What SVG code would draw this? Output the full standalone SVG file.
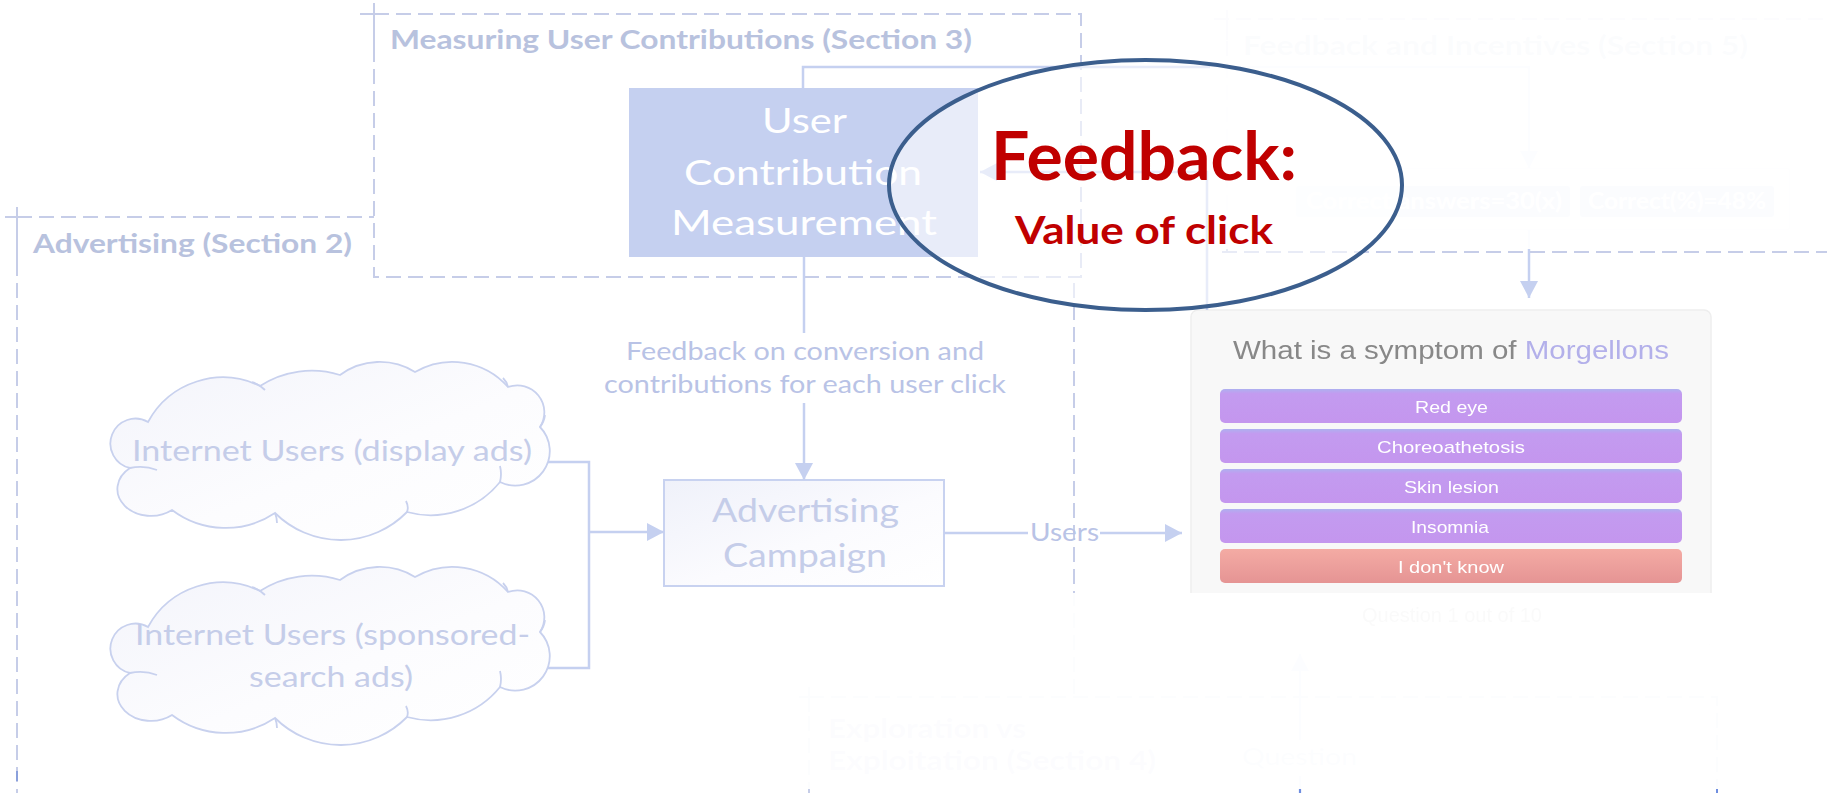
<svg xmlns="http://www.w3.org/2000/svg" width="1827" height="793" viewBox="0 0 1827 793">
<defs>
<style>
.dash{fill:none;stroke:#c6cde8;stroke-width:2;stroke-dasharray:15 7}
.tick{fill:none;stroke:#c6cde8;stroke-width:2}
.sec{font-family:Lato,"Open Sans","Liberation Sans",sans-serif;font-weight:700;font-size:26px;fill:#b8c2de}
.conn{fill:none;stroke:#c5d0f0;stroke-width:2.5}
.lbl{font-family:Lato,"Open Sans","Liberation Sans",sans-serif;fill:#b9c3e6}
.pale{fill:#c5cde9}
.white{fill:#ffffff}
.cloud{fill:url(#cloudFill);stroke:#c8d1ee;stroke-width:1.8}
.cloudIn{fill:none;stroke:#c8d1ee;stroke-width:1.8}
.btnt{font-family:"Liberation Sans",Arial,sans-serif;font-size:17px;fill:#ffffff}
.quiz{font-family:"Liberation Sans",Arial,sans-serif}
</style>
<linearGradient id="cloudFill" x1="0" y1="0" x2="1" y2="1">
<stop offset="0" stop-color="#f3f4fb"/><stop offset="0.55" stop-color="#fcfcfe"/><stop offset="1" stop-color="#ffffff"/>
</linearGradient>
<linearGradient id="campFill" x1="0" y1="0" x2="1" y2="1">
<stop offset="0" stop-color="#eff1fa"/><stop offset="0.55" stop-color="#fbfbfe"/><stop offset="1" stop-color="#ffffff"/>
</linearGradient>
<linearGradient id="purple" x1="0" y1="0" x2="0" y2="1">
<stop offset="0" stop-color="#aeb0f0"/><stop offset="0.14" stop-color="#c39bf0"/><stop offset="1" stop-color="#c496ee"/>
</linearGradient>
<linearGradient id="red" x1="0" y1="0" x2="0" y2="1">
<stop offset="0" stop-color="#f4aba4"/><stop offset="1" stop-color="#e59494"/>
</linearGradient>
<marker id="ah" viewBox="0 0 17 18" refX="17" refY="9" markerWidth="17" markerHeight="18" markerUnits="userSpaceOnUse" orient="auto">
<path d="M0,0 L17,9 L0,18 Z" fill="#c5d0f0"/>
</marker>
<filter id="soft" x="-5%" y="-5%" width="110%" height="110%"><feGaussianBlur stdDeviation="0.45"/></filter>
<path id="cloudShape" class="cloud" d="M148,422 A85,85 0 0 1 260,386 A95,95 0 0 1 340,375 A67,67 0 0 1 415,372 A74,74 0 0 1 508,387 A27,27 0 0 1 540,427 A34.5,34.5 0 0 1 500,482 A89,89 0 0 1 407,512 A93,93 0 0 1 275,513 A89,89 0 0 1 172,510 A30,24 0 1 1 130,468 A25,25 0 1 1 148,422 Z"/>
<path id="cloudInner" class="cloudIn" d="M130,468 Q144,465 157,470 M252,382 Q259,384 265,390 M508,387 Q507,382 503,378 M540,427 Q544,422 545,415 M500,466 Q502,474 500,482 M406,501 Q409,507 407,512 M275,513 Q277,518 277,523"/>
</defs>

<rect width="1827" height="793" fill="#ffffff"/>

<!-- Section 2: advertising frame -->
<g id="sec-advertising">
<path class="dash" d="M17,217 H1074 M17,217 V793 M1074,217 V800"/>
<path class="tick" d="M5,217 H25 M17,207 V268"/>
<path d="M17,771 V781" stroke="#8aa0dc" stroke-width="2"/>
</g>

<!-- Section 3: measuring frame (white fill hides what lies behind) -->
<g id="sec-measuring">
<rect x="374" y="14" width="707" height="263" fill="#ffffff"/>
<rect class="dash" x="374" y="14" width="707" height="263"/>
<path class="tick" d="M360,14 H382 M374,3 V48"/>
<text class="sec" x="390" y="49" textLength="582" lengthAdjust="spacingAndGlyphs">Measuring User Contributions (Section 3)</text>
</g>

<text class="sec" x="33" y="253" textLength="319" lengthAdjust="spacingAndGlyphs">Advertising (Section 2)</text>

<!-- Clouds of users -->
<g id="cloud-display">
<use href="#cloudShape"/>
<use href="#cloudInner"/>
<text class="lbl pale" x="132" y="461" font-size="29" textLength="400" lengthAdjust="spacingAndGlyphs">Internet Users (display ads)</text>
</g>
<g id="cloud-search">
<use href="#cloudShape" transform="translate(0,205)"/>
<use href="#cloudInner" transform="translate(0,205)"/>
<text class="lbl pale" x="135" y="645" font-size="29" textLength="395" lengthAdjust="spacingAndGlyphs">Internet Users (sponsored-</text>
<text class="lbl pale" x="249" y="687" font-size="29" textLength="164" lengthAdjust="spacingAndGlyphs">search ads)</text>
</g>

<!-- Advertising campaign -->
<g id="campaign">
<rect x="664" y="480" width="280" height="106" fill="url(#campFill)" stroke="#c8d2f0" stroke-width="2"/>
<text class="lbl pale" x="712" y="522" font-size="32" textLength="187" lengthAdjust="spacingAndGlyphs">Advertising</text>
<text class="lbl pale" x="723" y="567" font-size="32" textLength="164" lengthAdjust="spacingAndGlyphs">Campaign</text>
</g>

<!-- User contribution measurement -->
<g id="ucm">
<rect x="629" y="88" width="349" height="169" fill="#c5d0f0"/>
<text class="lbl white" x="762" y="133" font-size="35" textLength="85" lengthAdjust="spacingAndGlyphs">User</text>
<text class="lbl white" x="684" y="185" font-size="35" textLength="238" lengthAdjust="spacingAndGlyphs">Contribution</text>
<text class="lbl white" x="671" y="235" font-size="35" textLength="266" lengthAdjust="spacingAndGlyphs">Measurement</text>
</g>

<!-- Quiz screenshot -->
<g id="quiz" class="quiz" filter="url(#soft)">
<rect x="1191" y="310" width="520" height="338" rx="7" fill="#f8f8f8" stroke="#eeeeee" stroke-width="1.5"/>
<text x="1233" y="359" font-size="26" textLength="436" lengthAdjust="spacingAndGlyphs" fill="#888888">What is a symptom of <tspan fill="#b3b0ea">Morgellons</tspan></text>
<rect x="1220" y="389" width="462" height="34" rx="5" fill="url(#purple)"/>
<rect x="1220" y="429" width="462" height="34" rx="5" fill="url(#purple)"/>
<rect x="1220" y="469" width="462" height="34" rx="5" fill="url(#purple)"/>
<rect x="1220" y="509" width="462" height="34" rx="5" fill="url(#purple)"/>
<rect x="1220" y="549" width="462" height="34" rx="5" fill="url(#red)"/>
<text class="btnt" x="1415" y="413" textLength="73" lengthAdjust="spacingAndGlyphs">Red eye</text>
<text class="btnt" x="1377" y="453" textLength="148" lengthAdjust="spacingAndGlyphs">Choreoathetosis</text>
<text class="btnt" x="1404" y="493" textLength="95" lengthAdjust="spacingAndGlyphs">Skin lesion</text>
<text class="btnt" x="1411" y="533" textLength="78" lengthAdjust="spacingAndGlyphs">Insomnia</text>
<text class="btnt" x="1398" y="573" textLength="106" lengthAdjust="spacingAndGlyphs">I don't know</text>
<text x="1362" y="622" font-size="20" textLength="180" lengthAdjust="spacingAndGlyphs" fill="#9c9c9c">Question 1 out of 10</text>
</g>

<!-- Section 5: feedback and incentives -->
<g id="sec-feedback">
<path class="dash" d="M1214,19 H1827 M1227,19 V252"/>
<path class="tick" d="M1227,10 V40"/>
<text class="sec" x="1243" y="55" textLength="505" lengthAdjust="spacingAndGlyphs">Feedback and Incentives (Section 5)</text>
<rect x="1270" y="168" width="520" height="62" rx="4" fill="#f6f6f8" stroke="#e6e6ea"/>
<rect x="1296" y="186" width="274" height="31" rx="3" fill="#b4c1ec"/>
<rect x="1580" y="186" width="194" height="31" rx="3" fill="#b4c1ec"/>
<text class="lbl white" x="1306" y="209" font-size="22" font-weight="700" textLength="256" lengthAdjust="spacingAndGlyphs">Correct answers=30(x)</text>
<text class="lbl white" x="1588" y="209" font-size="22" font-weight="700" textLength="178" lengthAdjust="spacingAndGlyphs">Correct(%)=48%</text>
</g>

<!-- Section 4: exploration vs exploitation -->
<g id="sec-exploration">
<rect x="809" y="697" width="908" height="110" fill="#ffffff"/>
<rect class="dash" x="809" y="697" width="908" height="110"/>
<path class="tick" d="M799,697 H817 M809,687 V712"/>
<text class="sec" x="828" y="738" textLength="198" lengthAdjust="spacingAndGlyphs">Exploration vs</text>
<text class="sec" x="828" y="770" textLength="328" lengthAdjust="spacingAndGlyphs">Exploitation (Section 4)</text>
<text class="lbl pale" x="1242" y="765" font-size="24" textLength="115" lengthAdjust="spacingAndGlyphs">Question</text>
</g>

<!-- Connectors -->
<g id="connectors">
<path class="conn" d="M548,462 H589 V668 H548"/>
<path class="conn" d="M589,532 H664" marker-end="url(#ah)"/>
<path class="conn" d="M804,257 V333"/>
<path class="conn" d="M804,403 V480" marker-end="url(#ah)"/>
<path class="conn" d="M944,533 H1028"/>
<path class="conn" d="M1100,533 H1182" marker-end="url(#ah)"/>
<path class="conn" d="M803,88 V67 H1529 V168" marker-end="url(#ah)"/>
<path class="conn" d="M1207,310 V172 H980" marker-end="url(#ah)"/>
<path class="conn" d="M1529,230 V298" marker-end="url(#ah)"/>
<path class="conn" d="M1300,740 V654" marker-end="url(#ah)"/>
<path class="conn" d="M1300,776 V793"/>
<text class="lbl" x="626" y="360" font-size="25" textLength="358" lengthAdjust="spacingAndGlyphs">Feedback on conversion and</text>
<text class="lbl" x="604" y="393" font-size="25" textLength="402" lengthAdjust="spacingAndGlyphs">contributions for each user click</text>
<text class="lbl" x="1030" y="541" font-size="25" textLength="69" lengthAdjust="spacingAndGlyphs">Users</text>
</g>

<!-- Faded regions -->
<rect x="1210" y="0" width="617" height="249" fill="#ffffff" fill-opacity="0.94"/>
<rect x="600" y="593" width="1227" height="196" fill="#ffffff" fill-opacity="0.95"/>
<path class="dash" d="M1222,252 H1827"/>
<path d="M1300,789 V793 M1717,789 V793" stroke="#6f8ee0" stroke-width="2"/>

<!-- Callout -->
<g id="callout">
<ellipse cx="1145.5" cy="185" rx="256.5" ry="125" fill="#ffffff" fill-opacity="0.6" stroke="#3b5e8d" stroke-width="4"/>
<text x="991" y="180" font-family="Lato,'Open Sans','Liberation Sans',sans-serif" font-weight="700" font-size="66" fill="#c00000" textLength="306" lengthAdjust="spacingAndGlyphs">Feedback:</text>
<text x="1015" y="244" font-family="Lato,'Open Sans','Liberation Sans',sans-serif" font-weight="700" font-size="39" fill="#c00000" textLength="258" lengthAdjust="spacingAndGlyphs">Value of click</text>
</g>
</svg>
